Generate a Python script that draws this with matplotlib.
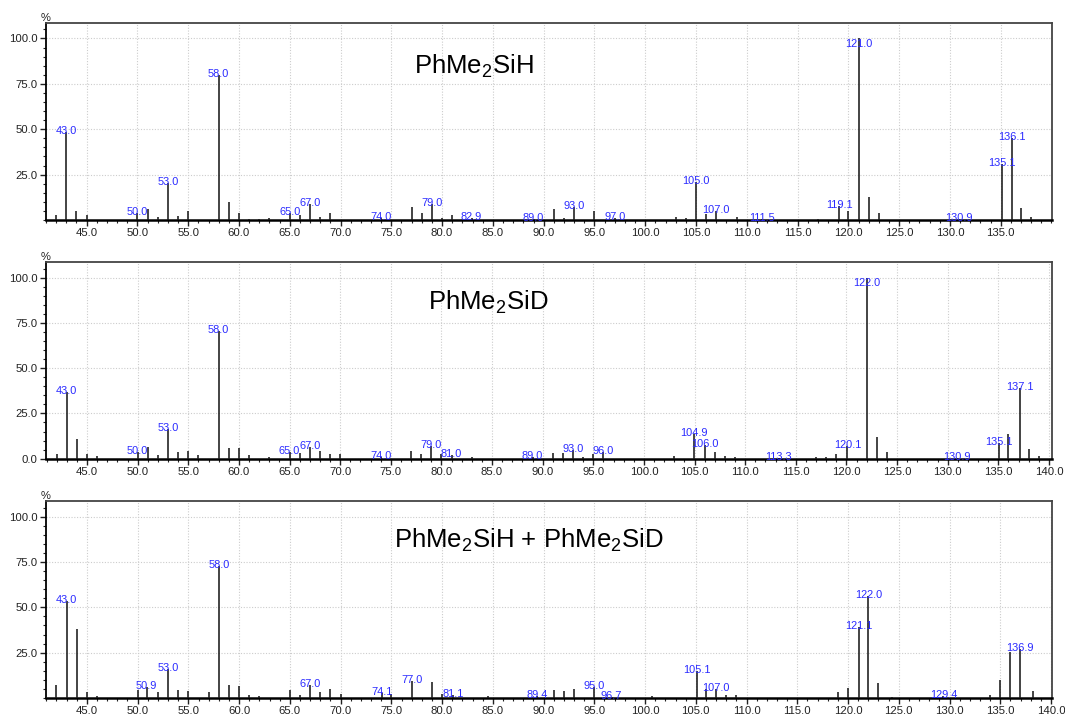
import matplotlib
matplotlib.use("Agg")
import matplotlib.pyplot as plt
from matplotlib.ticker import MultipleLocator, FixedLocator, FormatStrFormatter

plt.rcParams["font.family"] = ["Liberation Sans", "DejaVu Sans"]
plt.rcParams["mathtext.fontset"] = "custom"
plt.rcParams["mathtext.rm"] = "Liberation Sans"
plt.rcParams["mathtext.it"] = "Liberation Sans:italic"

# --- PhMe2SiH ---
sih_mz = [42, 43.0, 44, 45, 50.0, 51, 52, 53.0, 54, 55, 58.0, 59, 60, 61, 62, 63,
          65.0, 66, 67.0, 68, 69, 74.0, 77, 78, 79.0, 80, 81, 82.9, 89.0, 91, 92,
          93.0, 95, 97.0, 103, 104, 105.0, 106, 107.0, 109, 111.5, 117, 119.1, 120,
          121.0, 122, 123, 130.9, 135.1, 136.1, 137, 138]
sih_int = [3.0, 48.5, 4.8, 3.0, 3.6, 6.0, 1.5, 20.3, 2.2, 5.2, 79.8, 9.7, 3.7, 0.8, 0.8, 1.2,
           4.1, 2.9, 9.0, 1.9, 4.1, 1.0, 7.0, 3.7, 9.0, 1.2, 2.5, 1.0, 0.8, 5.8, 1.0,
           7.2, 5.2, 0.9, 1.8, 1.0, 21.1, 3.3, 5.1, 1.5, 0.6, 0.5, 7.8, 4.7,
           100.0, 12.6, 4.0, 0.6, 30.8, 45.4, 6.7, 1.9]
sih_labels = [43.0, 50.0, 53.0, 58.0, 65.0, 67.0, 74.0, 79.0, 82.9, 89.0, 93.0, 97.0,
              105.0, 107.0, 111.5, 119.1, 121.0, 130.9, 135.1, 136.1]

# --- PhMe2SiD ---
sid_mz = [42, 43.0, 44, 45, 46, 50.0, 51, 52, 53.0, 54, 55, 56, 58.0, 59, 60, 61, 63,
          65.0, 66, 67.0, 68, 69, 70, 74.0, 77, 78, 79.0, 80, 81.0, 83, 89.0, 91, 92,
          93.0, 94, 95, 96.0, 103, 104.9, 106.0, 107, 108, 109, 113.3, 117, 118, 119,
          120.1, 122.0, 123, 124, 130.9, 135.1, 136, 137.1, 138, 139]
sid_int = [2.6, 36.6, 11.0, 2.6, 1.3, 3.7, 6.6, 1.8, 16.5, 3.9, 4.2, 1.8, 70.5, 6.1, 6.1, 2.0, 1.1,
           3.7, 2.9, 6.3, 4.4, 2.6, 2.6, 1.0, 4.4, 2.6, 7.2, 2.6, 2.2, 0.9, 0.8, 3.3, 3.3,
           5.0, 1.1, 2.6, 3.7, 1.5, 13.8, 7.5, 3.9, 1.5, 1.0, 0.5, 1.1, 1.1, 2.6,
           7.2, 100.0, 12.1, 3.9, 0.6, 8.6, 13.6, 38.8, 5.5, 1.5]
sid_labels = [43.0, 50.0, 53.0, 58.0, 65.0, 67.0, 74.0, 79.0, 81.0, 89.0, 93.0, 96.0,
              104.9, 106.0, 113.3, 120.1, 122.0, 130.9, 135.1, 137.1]

# --- PhMe2SiH + PhMe2SiD ---
mix_mz = [41, 42, 43.0, 44, 45, 46, 50, 50.9, 52, 53.0, 54, 55, 57, 58.0, 59, 60, 61, 62,
          65, 66, 67.0, 68, 69, 70, 74.1, 75, 77.0, 79, 80, 81.1, 84.5, 89.4, 91, 92, 93,
          95.0, 96.7, 100.7, 105.1, 106, 107.0, 108, 109, 119, 120, 121.1, 122.0, 123,
          124.3, 129.4, 134, 135, 136, 136.9, 138.2]
mix_int = [5.5, 7.2, 53.4, 38.1, 3.3, 1.3, 4.2, 6.1, 3.5, 16.0, 4.2, 3.9, 3.3, 72.9, 7.0, 6.5, 1.5, 1.3,
           4.2, 1.5, 7.0, 3.3, 5.0, 2.0, 2.5, 2.0, 9.5, 8.7, 2.2, 1.5, 1.0, 1.3, 4.3, 3.9, 5.2,
           6.1, 0.7, 1.0, 15.1, 5.2, 5.1, 1.4, 1.4, 3.3, 5.6, 39.3, 56.5, 8.1,
           0.6, 1.3, 1.6, 9.8, 25.2, 27.0, 3.8]
mix_labels = [43.0, 50.9, 53.0, 58.0, 67.0, 74.1, 77.0, 81.1, 89.4, 95.0, 96.7, 105.1,
              107.0, 121.1, 122.0, 129.4, 136.9]

LABEL_BLUE = "#2a2aff"


def draw_panel(ax, mz, inten, labels, title, title_xy, xlim, xmaj_max, show_zero):
    ax.vlines(mz, 0, inten, colors="#1a1a1a", linewidth=1.15, zorder=3)
    for m in labels:
        h = inten[mz.index(m)]
        y = min(h, 96.5)
        ax.annotate(f"{m:.1f}", (m, y), textcoords="offset pixels", xytext=(0, -2),
                    ha="center", va="baseline", fontsize=7.9, color=LABEL_BLUE, zorder=4)
    ax.text(title_xy[0], title_xy[1], title, ha="center", va="baseline",
            fontsize=18.5, color="black")

    ax.set_xlim(*xlim)
    ax.set_ylim(0, 108.5)
    majx = [float(v) for v in range(45, xmaj_max + 1, 5)]
    ax.xaxis.set_major_locator(FixedLocator(majx))
    ax.xaxis.set_minor_locator(MultipleLocator(1))
    ax.xaxis.set_major_formatter(FormatStrFormatter("%.1f"))
    yt = [0, 25, 50, 75, 100] if show_zero else [25, 50, 75, 100]
    ax.yaxis.set_major_locator(FixedLocator(yt))
    ax.yaxis.set_minor_locator(MultipleLocator(5))
    ax.yaxis.set_major_formatter(FormatStrFormatter("%.1f"))

    ax.grid(True, which="major", linestyle=(0, (1, 1.5)), color="#cccccc", linewidth=0.8, zorder=0)
    ax.set_axisbelow(True)
    ax.tick_params(axis="both", which="major", length=4, width=1, color="#222",
                   labelsize=8.2, labelcolor="#222", pad=2)
    ax.tick_params(axis="both", which="minor", length=2.5, width=0.8, color="#222")
    for side in ("top", "right"):
        ax.spines[side].set_color("#444444")
        ax.spines[side].set_linewidth(1.3)
    ax.spines["bottom"].set_color("black")
    ax.spines["bottom"].set_linewidth(1.8)
    ax.spines["left"].set_color("black")
    ax.spines["left"].set_linewidth(1.3)
    ax.text(0.0, 1.0, "%", transform=ax.transAxes, ha="center", va="bottom",
            fontsize=8, color="#222")


fig = plt.figure(figsize=(10.65, 7.15), dpi=100)
ax1 = fig.add_axes([0.0432, 0.6923, 0.9446, 0.2755])
ax2 = fig.add_axes([0.0432, 0.3585, 0.9446, 0.2747])
ax3 = fig.add_axes([0.0432, 0.0238, 0.9446, 0.2751])

draw_panel(ax1, sih_mz, sih_int, sih_labels, "PhMe$_2$SiH", (83.1, 80.4),
           (41.0, 140.05), 135, False)
draw_panel(ax2, sid_mz, sid_int, sid_labels, "PhMe$_2$SiD", (84.6, 82.0),
           (40.95, 140.3), 140, True)
draw_panel(ax3, mix_mz, mix_int, mix_labels, "PhMe$_2$SiH + PhMe$_2$SiD", (88.5, 82.8),
           (40.97, 140.1), 140, False)

fig.savefig("out.png", dpi=100)
